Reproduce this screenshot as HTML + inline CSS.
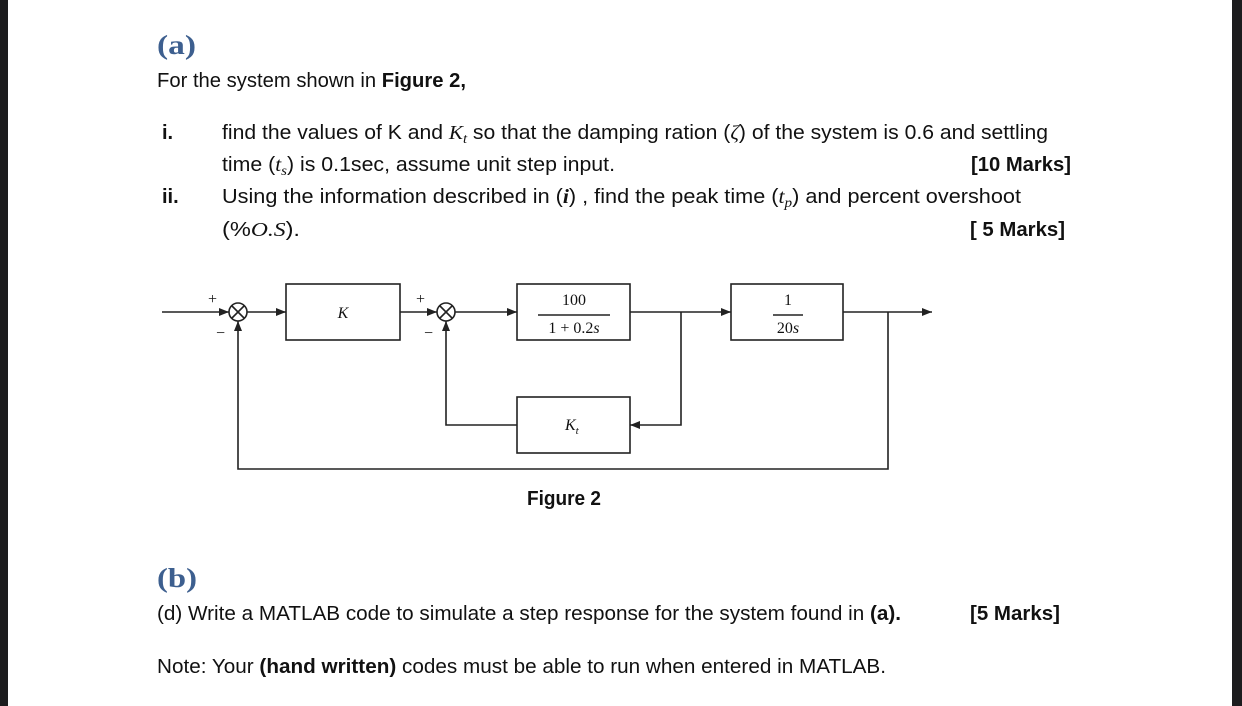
<!DOCTYPE html>
<html><head><meta charset="utf-8"><style>
html,body{margin:0;padding:0;background:#fff;}
svg{display:block;}
.t{font-family:"Liberation Sans",sans-serif;font-size:20px;fill:#111;}
.h{font-family:"Liberation Serif",serif;font-size:27px;font-weight:bold;fill:#3d5f8f;}
.m{font-family:"Liberation Serif",serif;font-style:italic;}
.d{font-family:"Liberation Serif",serif;font-size:16px;fill:#111;}
</style></head><body>
<svg width="1242" height="706" viewBox="0 0 1242 706" xmlns="http://www.w3.org/2000/svg">
<rect x="0" y="0" width="8" height="706" fill="#1c1c1e"/>
<rect x="1232" y="0" width="10" height="706" fill="#1c1c1e"/>
<defs><marker id="a" markerWidth="10" markerHeight="8" refX="10" refY="4" orient="auto" markerUnits="userSpaceOnUse"><path d="M0,0 L10,4 L0,8 z" fill="#222"/></marker></defs>

<text class="h" x="157" y="54" textLength="39" lengthAdjust="spacingAndGlyphs">(a)</text>
<text class="t" x="157" y="87" textLength="309" lengthAdjust="spacingAndGlyphs">For the system shown in <tspan font-weight="bold">Figure 2,</tspan></text>
<text class="t" x="162" y="139" font-weight="bold">i.</text>
<text class="t" x="222" y="139" textLength="826" lengthAdjust="spacingAndGlyphs">find the values of K and <tspan class="m">K<tspan font-size="14" dy="4">t</tspan></tspan><tspan dy="-4"> so that the damping ration (</tspan><tspan class="m">ζ</tspan>) of the system is 0.6 and settling</text>
<text class="t" x="222" y="171" textLength="393" lengthAdjust="spacingAndGlyphs">time (<tspan class="m">t<tspan font-size="14" dy="4">s</tspan></tspan><tspan dy="-4">) is 0.1sec, assume unit step input.</tspan></text>
<text class="t" x="971" y="171" font-weight="bold" textLength="100" lengthAdjust="spacingAndGlyphs">[10 Marks]</text>
<text class="t" x="162" y="203" font-weight="bold">ii.</text>
<text class="t" x="222" y="203" textLength="799" lengthAdjust="spacingAndGlyphs">Using the information described in (<tspan class="m" font-weight="bold">i</tspan>) , find the peak time (<tspan class="m">t<tspan font-size="14" dy="4">p</tspan></tspan><tspan dy="-4">)  and percent overshoot</tspan></text>
<text class="t" x="222" y="236" textLength="78" lengthAdjust="spacingAndGlyphs">(%<tspan class="m">O.S</tspan>).</text>
<text class="t" x="970" y="236" font-weight="bold" textLength="95" lengthAdjust="spacingAndGlyphs">[ 5 Marks]</text>

<g stroke="#222" stroke-width="1.6" fill="none">
<line x1="162" y1="312" x2="229" y2="312" marker-end="url(#a)"/>
<circle cx="238" cy="312" r="9"/>
<line x1="232" y1="306" x2="244" y2="318"/><line x1="244" y1="306" x2="232" y2="318"/>
<line x1="247" y1="312" x2="286" y2="312" marker-end="url(#a)"/>
<rect x="286" y="284" width="114" height="56"/>
<line x1="400" y1="312" x2="437" y2="312" marker-end="url(#a)"/>
<circle cx="446" cy="312" r="9"/>
<line x1="440" y1="306" x2="452" y2="318"/><line x1="452" y1="306" x2="440" y2="318"/>
<line x1="455" y1="312" x2="517" y2="312" marker-end="url(#a)"/>
<rect x="517" y="284" width="113" height="56"/>
<line x1="630" y1="312" x2="731" y2="312" marker-end="url(#a)"/>
<rect x="731" y="284" width="112" height="56"/>
<line x1="843" y1="312" x2="932" y2="312" marker-end="url(#a)"/>
<polyline points="681,312 681,425 630,425" marker-end="url(#a)"/>
<rect x="517" y="397" width="113" height="56"/>
<polyline points="517,425 446,425 446,321" marker-end="url(#a)"/>
<polyline points="888,312 888,469 238,469 238,321" marker-end="url(#a)"/>
<line x1="538" y1="315" x2="610" y2="315"/>
<line x1="773" y1="315" x2="803" y2="315"/>
</g>
<text class="d" x="208" y="304">+</text><text class="d" x="216" y="338">−</text>
<text class="d" x="416" y="304">+</text><text class="d" x="424" y="338">−</text>
<text class="d m" x="343" y="318" text-anchor="middle">K</text>
<text class="d" x="574" y="305" text-anchor="middle">100</text>
<text class="d" x="574" y="333" text-anchor="middle">1 + 0.2<tspan class="m">s</tspan></text>
<text class="d" x="788" y="305" text-anchor="middle">1</text>
<text class="d" x="788" y="333" text-anchor="middle">20<tspan class="m">s</tspan></text>
<text class="d m" x="565" y="430">K<tspan font-size="11" dy="4">t</tspan></text>
<text class="t" x="527" y="505" font-weight="bold" textLength="74" lengthAdjust="spacingAndGlyphs">Figure 2</text>

<text class="h" x="157" y="587" textLength="40" lengthAdjust="spacingAndGlyphs">(b)</text>
<text class="t" x="157" y="620" textLength="744" lengthAdjust="spacingAndGlyphs">(d) Write a MATLAB code to simulate a step response for the system found in <tspan font-weight="bold">(a).</tspan></text>
<text class="t" x="970" y="620" font-weight="bold" textLength="90" lengthAdjust="spacingAndGlyphs">[5 Marks]</text>
<text class="t" x="157" y="673" textLength="729" lengthAdjust="spacingAndGlyphs">Note: Your <tspan font-weight="bold">(hand written)</tspan> codes must be able to run when entered in MATLAB.</text>
</svg>
</body></html>
